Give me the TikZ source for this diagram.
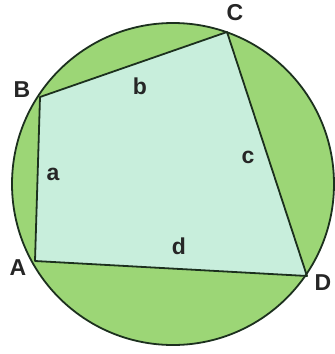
\documentclass[tikz,border=0pt]{standalone}
\usepackage{fontspec}
\setmainfont{Liberation Sans}
\definecolor{outergreen}{RGB}{156,214,118}
\definecolor{innergreen}{RGB}{200,238,220}
\definecolor{edgecol}{RGB}{28,48,30}
\tikzset{
  lbl/.style={font=\fontsize{23}{26}\selectfont\bfseries, text=black!85, inner sep=0pt},
  edge/.style={draw=edgecol, line width=1.8pt, line join=round},
}
\begin{document}
\begin{tikzpicture}[x=1pt,y=-1pt]
\useasboundingbox (0,0) rectangle (335,354);
\coordinate (O) at (173,184);
\coordinate (A) at (35,261);
\coordinate (B) at (40,97);
\coordinate (C) at (227,32);
\coordinate (D) at (307,276);
\fill[outergreen] (O) circle[radius=161];
\filldraw[fill=innergreen, edge] (A) -- (B) -- (C) -- (D) -- cycle;
\draw[edge] (O) circle[radius=161];
\node[lbl] (lA) at (18,268) {A};
\node[lbl] (lB) at (22,90) {B};
\node[lbl] (lC) at (235,13) {C};
\node[lbl] (lD) at (323,283) {D};
\node[lbl] (la) at (53,174) {a};
\node[lbl] (lb) at (140,86) {b};
\node[lbl] (lc) at (248,157) {c};
\node[lbl] (ld) at (179,246) {d};
\end{tikzpicture}
\end{document}
